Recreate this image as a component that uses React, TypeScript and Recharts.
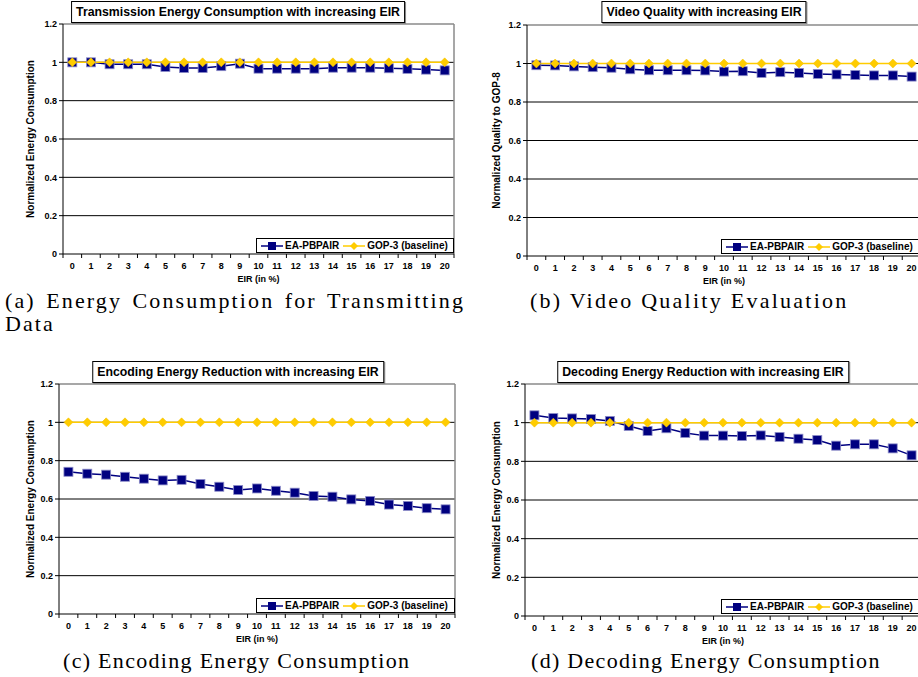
import React from 'react';
import { LineChart, Line, XAxis, YAxis, ReferenceLine, Legend } from 'recharts';

const EIR = [0, 1, 2, 3, 4, 5, 6, 7, 8, 9, 10, 11, 12, 13, 14, 15, 16, 17, 18, 19, 20];
const Y_TICKS = [0, 0.2, 0.4, 0.6, 0.8, 1, 1.2];
const GRID_LINES = [0.2, 0.4, 0.6, 0.8, 1];

const TRANS_EA = [1.0, 1.0, 0.99, 0.99, 0.99, 0.976, 0.97, 0.97, 0.98, 0.993, 0.967, 0.967, 0.967, 0.967, 0.972, 0.972, 0.972, 0.969, 0.966, 0.962, 0.958];
const TRANS_GOP = [1, 1, 1, 1, 1, 1, 1, 1, 1, 1, 1, 1, 1, 1, 1, 1, 1, 1, 1, 1, 1];

const VQ_EA = [0.991, 0.99, 0.985, 0.981, 0.978, 0.97, 0.965, 0.965, 0.965, 0.964, 0.958, 0.96, 0.951, 0.955, 0.951, 0.946, 0.943, 0.94, 0.938, 0.938, 0.932];
const VQ_GOP = [1, 1, 1, 1, 1, 1, 1, 1, 1, 1, 1, 1, 1, 1, 1, 1, 1, 1, 1, 1, 1];

const ENC_EA = [0.742, 0.732, 0.727, 0.716, 0.706, 0.697, 0.7, 0.678, 0.664, 0.647, 0.655, 0.643, 0.633, 0.616, 0.612, 0.598, 0.59, 0.571, 0.564, 0.552, 0.546];
const ENC_GOP = [1, 1, 1, 1, 1, 1, 1, 1, 1, 1, 1, 1, 1, 1, 1, 1, 1, 1, 1, 1, 1];

const DEC_EA = [1.038, 1.024, 1.022, 1.019, 1.009, 0.983, 0.957, 0.971, 0.947, 0.933, 0.933, 0.931, 0.934, 0.926, 0.917, 0.91, 0.881, 0.888, 0.888, 0.867, 0.831];
const DEC_GOP = [1, 1, 1, 1, 1, 1, 1, 1, 1, 1, 1, 1, 1, 1, 1, 1, 1, 1, 1, 1, 1];

const SERIES_NAMES = ['EA-PBPAIR', 'GOP-3 (baseline)'];

// ticks at every category plus the category edges (Excel puts tick marks between categories)
const X_TICKS = [EIR[0] - 0.5, ...EIR.flatMap((v) => [v, v + 0.5])];

const SANS = '"Liberation Sans", Arial, sans-serif';
const SERIF = '"Liberation Serif", "Times New Roman", serif';
const NAVY = '#000080';
const GOLD = '#FFCC00';

const PANELS = [
  {
    title: 'Transmission Energy Consumption with increasing EIR',
    yLabel: 'Normalized Energy Consumption',
    caption: '(a) Energy Consumption for Transmitting Data',
    ea: TRANS_EA, gop: TRANS_GOP,
    left: 0, top: 0, width: 460, height: 290, axisW: 63, mTop: 24, mRight: 6,
    titleX: 238, labelX: 30, legendX: 256, legendY: 238, legendW: 198,
    capX: 5, capY: 289, capLs: 2.1,
  },
  {
    title: 'Video Quality with increasing EIR',
    yLabel: 'Normalized Quality to GOP-8',
    caption: '(b) Video Quality Evaluation',
    ea: VQ_EA, gop: VQ_GOP,
    left: 458, top: 0, width: 463, height: 292, axisW: 69, mTop: 25, mRight: 0,
    titleX: 246, labelX: 38, legendX: 263, legendY: 239, legendW: 200,
    capX: 530, capY: 289, capLs: 2.25,
  },
  {
    title: 'Encoding Energy Reduction with increasing EIR',
    yLabel: 'Normalized Energy Consumption',
    caption: '(c) Encoding Energy Consumption',
    ea: ENC_EA, gop: ENC_GOP,
    left: 0, top: 360, width: 460, height: 290, axisW: 59, mTop: 24, mRight: 5,
    titleX: 238, labelX: 30, legendX: 256, legendY: 238, legendW: 199,
    capX: 63, capY: 649, capLs: 1.3,
  },
  {
    title: 'Decoding Energy Reduction with increasing EIR',
    yLabel: 'Normalized Energy Consumption',
    caption: '(d) Decoding Energy Consumption',
    ea: DEC_EA, gop: DEC_GOP,
    left: 458, top: 360, width: 463, height: 292, axisW: 67, mTop: 24, mRight: 0,
    titleX: 245, labelX: 38, legendX: 263, legendY: 239, legendW: 200,
    capX: 531, capY: 649, capLs: 1.3,
  },
];

function XTick(props: any) {
  const { x, y, payload } = props;
  const v = payload.value;
  if (!Number.isInteger(v)) {
    return <line x1={x} x2={x} y1={y - 4} y2={y} stroke="#000" strokeWidth={1} />;
  }
  return (
    <text x={x} y={y + 11} textAnchor="middle" fontSize={9} fontWeight="bold" fontFamily={SANS} fill="#000">
      {v}
    </text>
  );
}

function SquareDot(props: any) {
  const { cx, cy, index } = props;
  if (cx == null || cy == null) return null;
  return <rect key={`sq${index}`} x={cx - 4.5} y={cy - 4.5} width={9} height={9} fill={NAVY} stroke="#8c8cc8" strokeWidth={0.8} />;
}

function DiamondDot(props: any) {
  const { cx, cy, index } = props;
  if (cx == null || cy == null) return null;
  const r = 4.5;
  return (
    <polygon
      key={`dm${index}`}
      points={`${cx},${cy - r} ${cx + r},${cy} ${cx},${cy + r} ${cx - r},${cy}`}
      fill={GOLD}
      stroke="#f0c000"
      strokeWidth={0.5}
    />
  );
}

function LegendBox() {
  const item = (marker: React.ReactNode, color: string, name: string) => (
    <span style={{ display: 'inline-flex', alignItems: 'center', marginRight: 4 }}>
      <svg width={22} height={10} style={{ marginRight: 2 }}>
        <line x1={0} x2={22} y1={5} y2={5} stroke={color} strokeWidth={1.5} />
        {marker}
      </svg>
      {name}
    </span>
  );
  return (
    <div
      style={{
        boxSizing: 'border-box',
        height: 15,
        border: '1px solid #000',
        background: '#fff',
        display: 'flex',
        alignItems: 'center',
        paddingLeft: 4,
        fontFamily: SANS,
        fontSize: 10,
        fontWeight: 'bold',
        color: '#000',
        whiteSpace: 'nowrap',
      }}
    >
      {item(<rect x={7} y={1} width={8} height={8} fill={NAVY} />, NAVY, SERIES_NAMES[0])}
      {item(<polygon points="11,1 15,5 11,9 7,5" fill={GOLD} />, GOLD, SERIES_NAMES[1])}
    </div>
  );
}

function Panel({ p }: { p: (typeof PANELS)[number] }) {
  const rows = EIR.map((e, i) => ({ eir: e, ea: p.ea[i], gop: p.gop[i] }));
  return (
    <div style={{ position: 'absolute', left: p.left, top: p.top, width: p.width, height: p.height }}>
      <LineChart
        width={p.width}
        height={p.height}
        data={rows}
        margin={{ top: p.mTop, right: p.mRight, left: 0, bottom: 2 }}
      >
        {GRID_LINES.map((g) => (
          <ReferenceLine key={g} y={g} stroke="#000" strokeWidth={1} ifOverflow="visible" />
        ))}
        <ReferenceLine y={1.2} stroke="#8a8a8a" strokeWidth={1.5} />
        <ReferenceLine x={20.5} stroke="#8a8a8a" strokeWidth={1.5} />
        <XAxis
          dataKey="eir"
          type="number"
          domain={[-0.5, 20.5]}
          ticks={X_TICKS}
          interval={0}
          tick={<XTick />}
          tickSize={4}
          tickMargin={0}
          tickLine={{ stroke: 'transparent' }}
          axisLine={{ stroke: '#000' }}
          height={34}
          label={{
            value: 'EIR (in %)',
            position: 'insideBottom',
            offset: 6,
            style: { fontSize: 9, fontWeight: 'bold', fontFamily: SANS, fill: '#000' },
          }}
        />
        <YAxis
          domain={[0, 1.2]}
          ticks={Y_TICKS}
          interval={0}
          width={p.axisW}
          tickSize={4}
          tickMargin={2}
          tickLine={{ stroke: '#000' }}
          axisLine={{ stroke: '#000' }}
          tick={{ fontSize: 9, fontWeight: 'bold', fontFamily: SANS, fill: '#000' }}
          label={{
            value: p.yLabel,
            angle: -90,
            position: 'insideLeft',
            offset: p.labelX,
            style: { textAnchor: 'middle', fontSize: 10, fontWeight: 'bold', fontFamily: SANS, fill: '#000' },
          }}
        />
        <Line
          dataKey="ea"
          name={SERIES_NAMES[0]}
          type="linear"
          stroke={NAVY}
          strokeWidth={1.5}
          dot={(d: any) => <SquareDot key={`s${d.index}`} {...d} />}
          isAnimationActive={false}
        />
        <Line
          dataKey="gop"
          name={SERIES_NAMES[1]}
          type="linear"
          stroke={GOLD}
          strokeWidth={1.5}
          dot={(d: any) => <DiamondDot key={`g${d.index}`} {...d} />}
          isAnimationActive={false}
        />
        <Legend
          layout="horizontal"
          verticalAlign="middle"
          content={<LegendBox />}
          wrapperStyle={{ left: p.legendX, top: p.legendY, width: p.legendW, height: 15 }}
        />
      </LineChart>
      <div
        style={{
          position: 'absolute',
          left: p.titleX,
          top: 1,
          transform: 'translateX(-50%)',
          border: '1px solid #000',
          boxShadow: '1px 1px 0 #888',
          background: '#fff',
          padding: '2px 4px',
          fontFamily: SANS,
          fontSize: 12.3,
          lineHeight: '16px',
          fontWeight: 'bold',
          whiteSpace: 'nowrap',
          color: '#000',
        }}
      >
        {p.title}
      </div>
    </div>
  );
}

export default function App() {
  return (
    <div style={{ position: 'absolute', left: 0, top: 0, width: 918, height: 677, overflow: 'hidden', background: '#fff' }}>
      {PANELS.map((p) => (
        <Panel key={p.title} p={p} />
      ))}
      {PANELS.map((p) => (
        <div
          key={p.caption}
          style={{
            position: 'absolute',
            left: p.capX,
            top: p.capY,
            width: 460,
            fontFamily: SERIF,
            fontSize: 22,
            lineHeight: '23px',
            letterSpacing: p.capLs,
            textAlign: 'justify',
            color: '#000',
          }}
        >
          {p.caption}
        </div>
      ))}
    </div>
  );
}
